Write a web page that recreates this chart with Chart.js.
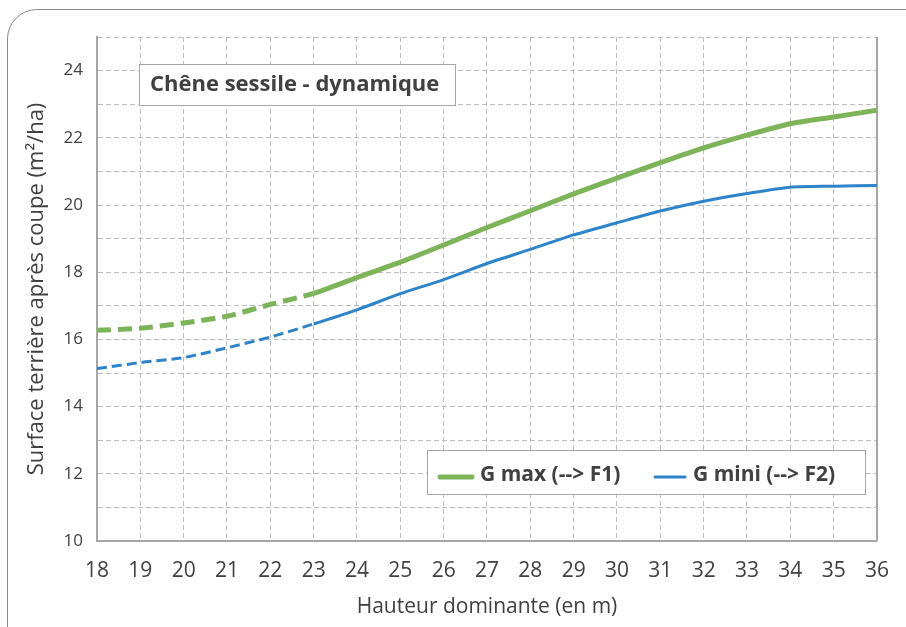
<!DOCTYPE html>
<html>
<head>
<meta charset="utf-8">
<script src="https://cdn.jsdelivr.net/npm/chart.js@4/dist/chart.umd.min.js"></script>
<style>
  html, body { margin: 0; padding: 0; background: #fff; overflow: hidden; }
  #wrap { position: relative; width: 906px; height: 627px; }
  #frame { position: absolute; left: 7px; top: 9px; width: 1000px; height: 1000px;
           border: 1.5px solid #8a8a8a; border-top-left-radius: 30px; }
  canvas { position: absolute; left: 0; top: 0; }
</style>
</head>
<body>
<div id="wrap">
  <div id="frame"></div>
  <canvas id="c" width="906" height="627"></canvas>
</div>
<script>
// ---- data ----
const hauteurs = [18, 19, 20, 21, 22, 23, 24, 25, 26, 27, 28, 29, 30, 31, 32, 33, 34, 35, 36];
const gMax  = [16.27, 16.33, 16.49, 16.69, 17.04, 17.37, 17.84, 18.30, 18.81, 19.33, 19.83, 20.33, 20.80, 21.26, 21.70, 22.08, 22.42, 22.62, 22.82];
const gMini = [15.13, 15.31, 15.46, 15.75, 16.07, 16.46, 16.88, 17.36, 17.78, 18.26, 18.68, 19.11, 19.47, 19.82, 20.11, 20.34, 20.53, 20.56, 20.58];
const seriesLabels = ['G max (--> F1)', 'G mini (--> F2)'];
const chartTitle = 'Chêne sessile - dynamique';
const xTitle = 'Hauteur dominante (en m)';
const yTitle = 'Surface terrière après coupe (m²/ha)';
const dashedUntil = 23;

const GREEN = '#7DB45A';
const BLUE = '#2E84C8';
const TXT = '#404040';
const FONT = "'Open Sans', 'Noto Sans', sans-serif";

const toPts = (ys) => hauteurs.map((x, i) => ({ x, y: ys[i] }));

const overlay = {
  id: 'overlay',
  beforeDatasetsDraw(chart) {
    const { ctx, chartArea: a } = chart;
    ctx.save();
    ctx.strokeStyle = '#A6A6A6';
    ctx.lineWidth = 2;
    ctx.beginPath();
    ctx.moveTo(a.right, a.top);
    ctx.lineTo(a.right, a.bottom);
    ctx.stroke();
    ctx.restore();
  },
  afterDatasetsDraw(chart) {
    const { ctx } = chart;
    ctx.save();
    // title box
    ctx.fillStyle = '#fff';
    ctx.strokeStyle = '#A6A6A6';
    ctx.lineWidth = 1;
    ctx.fillRect(139.5, 64.5, 316, 41);
    ctx.strokeRect(139.5, 64.5, 316, 41);
    ctx.fillStyle = TXT;
    ctx.font = "bold 22px " + FONT;
    ctx.textBaseline = 'middle';
    ctx.textAlign = 'left';
    ctx.fillText(chartTitle, 150, 85);

    // legend box
    ctx.fillStyle = '#fff';
    ctx.fillRect(427.5, 450.5, 438, 44);
    ctx.strokeRect(427.5, 450.5, 438, 44);
    const ds = chart.data.datasets;
    const items = [
      { x0: 440, x1: 472, tx: 480 },
      { x0: 655, x1: 685, tx: 693 }
    ];
    items.forEach((it, i) => {
      ctx.strokeStyle = ds[i].borderColor;
      ctx.lineWidth = ds[i].borderWidth;
      ctx.lineCap = 'round';
      ctx.beginPath();
      ctx.moveTo(it.x0, 477);
      ctx.lineTo(it.x1, 477);
      ctx.stroke();
      ctx.fillStyle = TXT;
      ctx.font = "bold 21px " + FONT;
      ctx.fillText(ds[i].label, it.tx, 475);
    });
    ctx.restore();
  }
};

new Chart(document.getElementById('c'), {
  type: 'line',
  data: {
    datasets: [
      {
        label: seriesLabels[0],
        data: toPts(gMax),
        borderColor: GREEN,
        borderWidth: 5,
        pointRadius: 0,
        tension: 0.25,
        borderCapStyle: 'butt',
        segment: { borderDash: (c) => c.p1.parsed.x <= dashedUntil ? [14, 7] : undefined }
      },
      {
        label: seriesLabels[1],
        data: toPts(gMini),
        borderColor: BLUE,
        borderWidth: 3,
        pointRadius: 0,
        tension: 0.25,
        borderCapStyle: 'butt',
        segment: { borderDash: (c) => c.p1.parsed.x <= dashedUntil ? [10, 5] : undefined }
      }
    ]
  },
  options: {
    responsive: false,
    animation: false,
    layout: { padding: { top: 37, right: 20, bottom: 0, left: 0 } },
    plugins: { legend: { display: false }, tooltip: { enabled: false } },
    scales: {
      x: {
        type: 'linear',
        min: 18, max: 36,
        afterFit: (s) => { s.height = 86; },
        ticks: { stepSize: 1, color: TXT, font: { family: FONT, size: 21 }, padding: 17, maxRotation: 0, autoSkip: false },
        grid: { color: '#BDBDC3', lineWidth: 1, drawTicks: false },
        border: { display: true, color: '#A6A6A6', width: 2, dash: [5, 3] },
        title: { display: true, text: xTitle, color: TXT, font: { family: FONT, size: 21 }, padding: { top: 0, bottom: 7 } }
      },
      y: {
        min: 10, max: 25,
        afterFit: (s) => { s.width = 97; },
        ticks: { stepSize: 1, color: TXT, font: { family: FONT, size: 17 }, padding: 14,
                 callback: (v) => (v % 2 === 0 ? String(v) : '') },
        grid: { color: '#BDBDC3', lineWidth: 1, drawTicks: false },
        border: { display: true, color: '#A6A6A6', width: 2, dash: [5, 3] },
        title: { display: true, text: yTitle, color: TXT, font: { family: FONT, size: 22 }, padding: { top: 24, bottom: 0 } }
      }
    }
  },
  plugins: [overlay]
});
</script>
</body>
</html>
